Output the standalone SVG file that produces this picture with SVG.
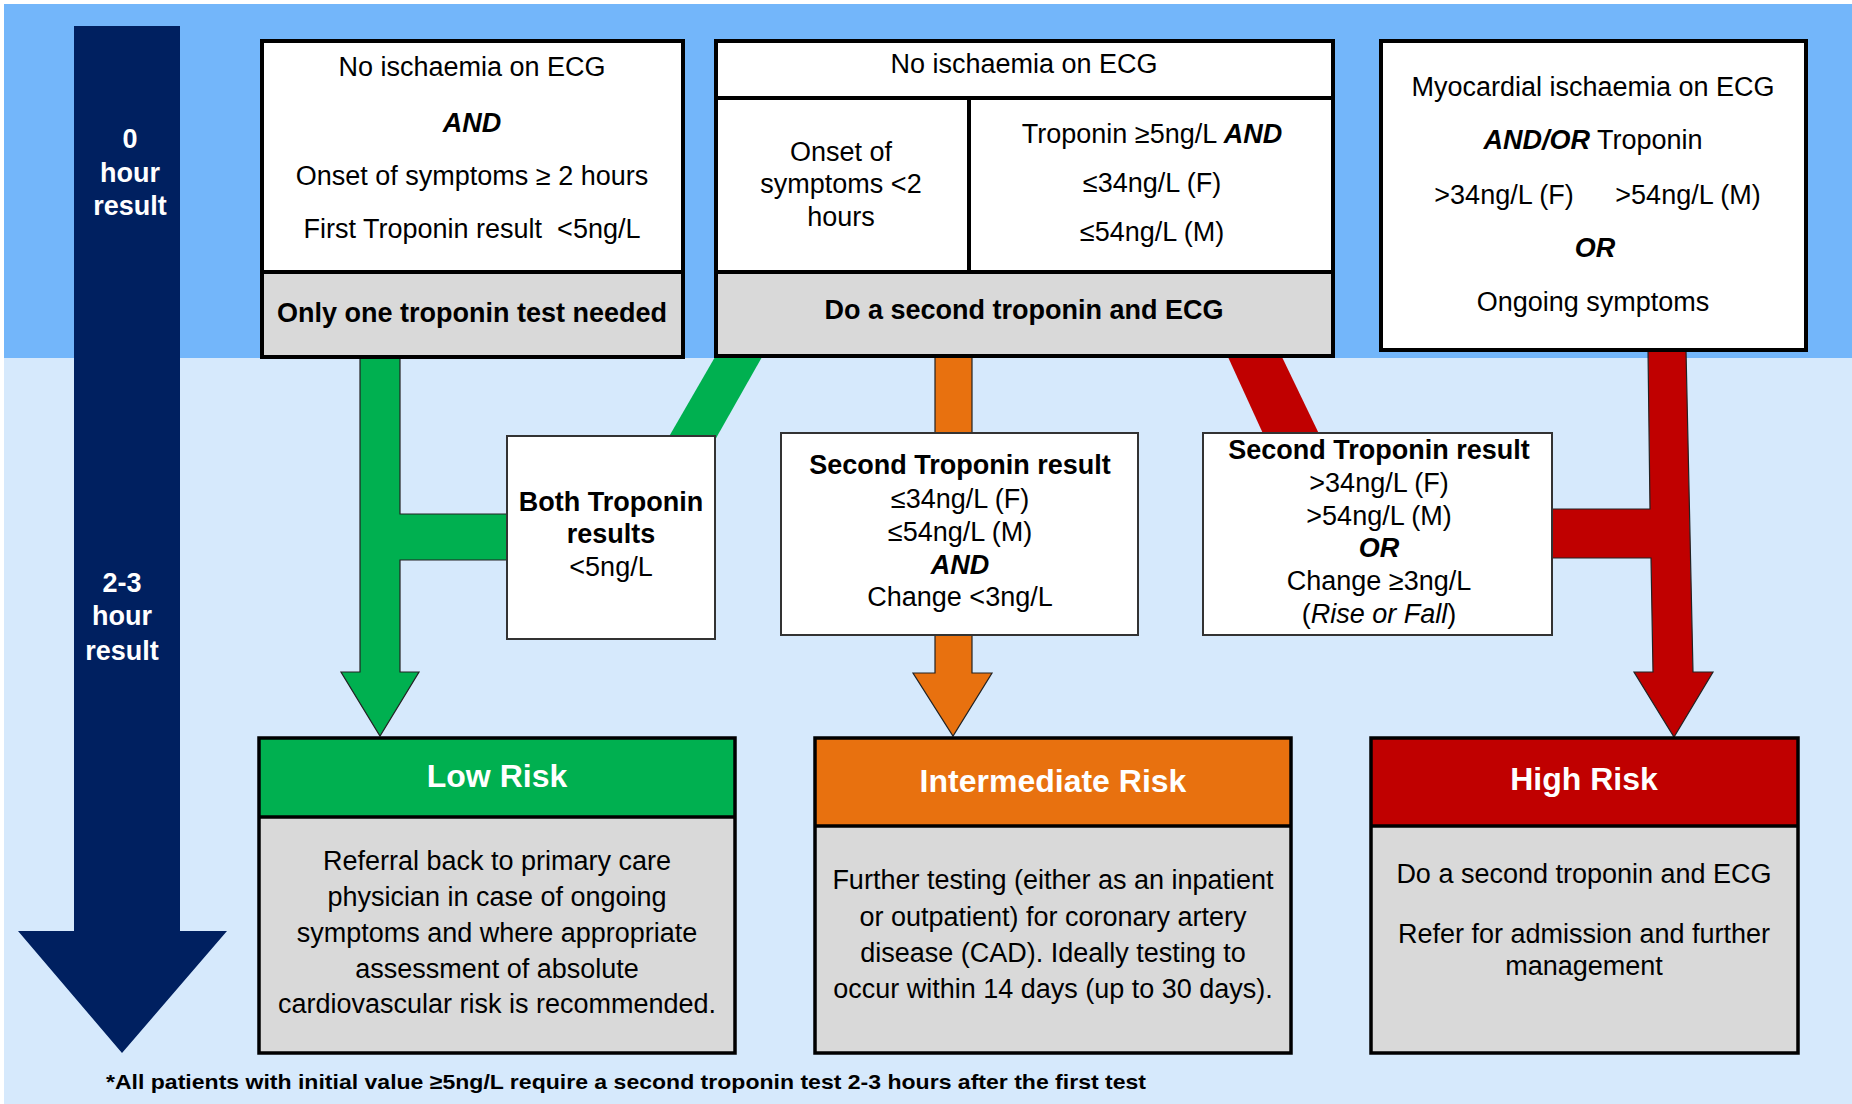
<svg xmlns="http://www.w3.org/2000/svg" width="1852" height="1104" viewBox="0 0 1852 1104">
<style>
text{font-family:"Liberation Sans",Arial,sans-serif;font-size:27px;fill:#000;text-anchor:middle}
.b{font-weight:bold}
.bi{font-weight:bold;font-style:italic}
.i{font-style:italic}
.w{fill:#fff;font-weight:bold}
.t{font-size:32px;fill:#fff;font-weight:bold}
.thick{stroke:#000;stroke-width:4}
.thin{stroke:#333;stroke-width:2}
.risk{stroke:#000;stroke-width:3.5}
.white{fill:#fff}
.grey{fill:#D9D9D9}
.arr{stroke:#222;stroke-width:1.2;stroke-linejoin:miter}
</style>
<rect x="0" y="0" width="1852" height="1104" fill="#fff"/>
<rect x="4" y="4" width="1848" height="354" fill="#73B6FA"/>
<rect x="4" y="358" width="1848" height="746" fill="#D6E9FC"/>

<g id="timeline">
<polygon points="74,26 180,26 180,931 227,931 122,1053 18,931 74,931" fill="#002060"/>
<text class="w" x="130" y="148">0</text>
<text class="w" x="130" y="182">hour</text>
<text class="w" x="130" y="215">result</text>
<text class="w" x="122" y="592">2-3</text>
<text class="w" x="122" y="625">hour</text>
<text class="w" x="122" y="660">result</text>
</g>

<g id="connectors">
<polygon class="arr" points="360,357 400,357 400,514 507,514 507,560 400,560 400,672 419,672 380,736 341,672 360,672" fill="#00B050"/>
<polygon points="715,357 762,357 715,440 667,440" fill="#00B050"/>
<polygon class="arr" points="935,357 972,357 972,673 992,673 953,736 913,673 935,673" fill="#E8710F"/>
<polygon points="1228,357 1282,357 1321,438 1265,438" fill="#C00000"/>
<polygon class="arr" points="1648,350 1686,350 1693,672 1713,672 1674,737 1634,672 1653,672 1651,558 1548,558 1548,509 1650,509" fill="#C00000"/>
</g>

<g id="box1">
<rect x="262" y="41" width="421" height="231" class="white"/>
<rect x="262" y="272" width="421" height="85" class="grey"/>
<rect x="262" y="41" width="421" height="316" fill="none" class="thick"/>
<line x1="262" y1="272" x2="683" y2="272" class="thick"/>
<text x="472" y="76">No ischaemia on ECG</text>
<text class="bi" x="472" y="132">AND</text>
<text x="472" y="185">Onset of symptoms ≥ 2 hours</text>
<text x="472" y="238">First Troponin result &#160;&lt;5ng/L</text>
<text class="b" x="472" y="322">Only one troponin test needed</text>
</g>

<g id="box2">
<rect x="716" y="41" width="617" height="231" class="white"/>
<rect x="716" y="272" width="617" height="84" class="grey"/>
<rect x="716" y="41" width="617" height="315" fill="none" class="thick"/>
<line x1="716" y1="98" x2="1333" y2="98" class="thick"/>
<line x1="969" y1="98" x2="969" y2="272" class="thick"/>
<line x1="716" y1="272" x2="1333" y2="272" class="thick"/>
<text x="1024" y="73">No ischaemia on ECG</text>
<text x="841" y="161">Onset of</text>
<text x="841" y="193">symptoms &lt;2</text>
<text x="841" y="226">hours</text>
<text x="1152" y="143">Troponin ≥5ng/L <tspan class="bi">AND</tspan></text>
<text x="1152" y="192">≤34ng/L (F)</text>
<text x="1152" y="241">≤54ng/L (M)</text>
<text class="b" x="1024" y="319">Do a second troponin and ECG</text>
</g>

<g id="box3">
<rect x="1381" y="41" width="425" height="309" class="white thick"/>
<text x="1593" y="96">Myocardial ischaemia on ECG</text>
<text x="1593" y="149"><tspan class="bi">AND/OR</tspan> Troponin</text>
<text x="1504" y="204">&gt;34ng/L (F)</text>
<text x="1688" y="204">&gt;54ng/L (M)</text>
<text class="bi" x="1595" y="257">OR</text>
<text x="1593" y="311">Ongoing symptoms</text>
</g>

<g id="both">
<rect x="507" y="436" width="208" height="203" class="white thin"/>
<text class="b" x="611" y="511">Both Troponin</text>
<text class="b" x="611" y="543">results</text>
<text x="611" y="576">&lt;5ng/L</text>
</g>

<g id="second-low">
<rect x="781" y="433" width="357" height="202" class="white thin"/>
<text class="b" x="960" y="474">Second Troponin result</text>
<text x="960" y="508">≤34ng/L (F)</text>
<text x="960" y="541">≤54ng/L (M)</text>
<text class="bi" x="960" y="574">AND</text>
<text x="960" y="606">Change &lt;3ng/L</text>
</g>

<g id="second-high">
<rect x="1203" y="433" width="349" height="202" class="white thin"/>
<text class="b" x="1379" y="459">Second Troponin result</text>
<text x="1379" y="492">&gt;34ng/L (F)</text>
<text x="1379" y="525">&gt;54ng/L (M)</text>
<text class="bi" x="1379" y="557">OR</text>
<text x="1379" y="590">Change ≥3ng/L</text>
<text x="1379" y="623">(<tspan class="i">Rise or Fall</tspan>)</text>
</g>

<g id="low">
<rect x="259" y="738" width="476" height="79" fill="#00B050"/>
<rect x="259" y="817" width="476" height="236" class="grey"/>
<rect x="259" y="738" width="476" height="315" fill="none" class="risk"/>
<line x1="259" y1="817" x2="735" y2="817" class="risk"/>
<text class="t" x="497" y="787">Low Risk</text>
<text x="497" y="870">Referral back to primary care</text>
<text x="497" y="906">physician in case of ongoing</text>
<text x="497" y="942">symptoms and where appropriate</text>
<text x="497" y="978">assessment of absolute</text>
<text x="497" y="1013">cardiovascular risk is recommended.</text>
</g>

<g id="intermediate">
<rect x="815" y="738" width="476" height="88" fill="#E8710F"/>
<rect x="815" y="826" width="476" height="227" class="grey"/>
<rect x="815" y="738" width="476" height="315" fill="none" class="risk"/>
<line x1="815" y1="826" x2="1291" y2="826" class="risk"/>
<text class="t" x="1053" y="792">Intermediate Risk</text>
<text x="1053" y="889">Further testing (either as an inpatient</text>
<text x="1053" y="926">or outpatient) for coronary artery</text>
<text x="1053" y="962">disease (CAD). Ideally testing to</text>
<text x="1053" y="998">occur within 14 days (up to 30 days).</text>
</g>

<g id="high">
<rect x="1371" y="738" width="427" height="88" fill="#C00000"/>
<rect x="1371" y="826" width="427" height="227" class="grey"/>
<rect x="1371" y="738" width="427" height="315" fill="none" class="risk"/>
<line x1="1371" y1="826" x2="1798" y2="826" class="risk"/>
<text class="t" x="1584" y="790">High Risk</text>
<text x="1584" y="883">Do a second troponin and ECG</text>
<text x="1584" y="943">Refer for admission and further</text>
<text x="1584" y="975">management</text>
</g>

<text class="b" x="106" y="1089" style="text-anchor:start;font-size:21px" textLength="1040" lengthAdjust="spacingAndGlyphs">*All patients with initial value ≥5ng/L require a second troponin test 2-3 hours after the first test</text>
</svg>
